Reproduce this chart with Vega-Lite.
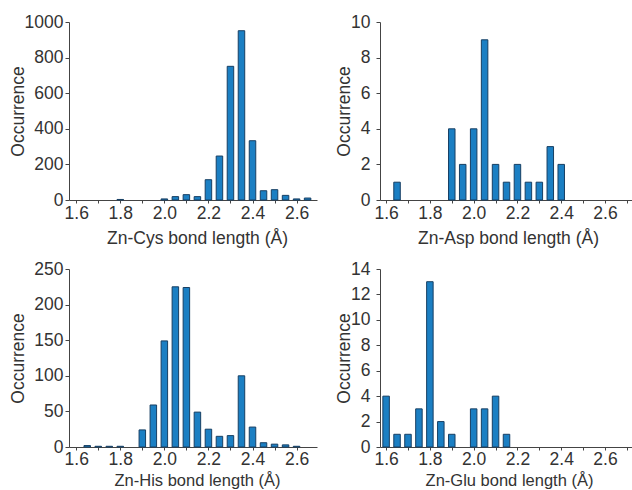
{
  "$schema": "https://vega.github.io/schema/vega-lite/v6.json",
  "padding": {"left": 9, "top": 13, "right": 0, "bottom": 0},
  "autosize": {"type": "pad"},
  "background": "white",
  "config": {
    "view": {"stroke": null},
    "font": "Liberation Sans",
    "axis": {
      "grid": false,
      "labelFont": "Liberation Sans",
      "labelFontSize": 17.5,
      "titleFont": "Liberation Sans",
      "titleFontSize": 17.5,
      "titleFontWeight": "normal",
      "labelColor": "#333333",
      "titleColor": "#333333",
      "domainColor": "#444444",
      "tickColor": "#444444",
      "labelFlush": false,
      "labelOverlap": false,
      "format": "d"
    }
  },
  "data": {
    "values": [
      {"residue": "Cys", "length": 1.8, "count": 3},
      {"residue": "Cys", "length": 2.0, "count": 6},
      {"residue": "Cys", "length": 2.05, "count": 19},
      {"residue": "Cys", "length": 2.1, "count": 30},
      {"residue": "Cys", "length": 2.15, "count": 19},
      {"residue": "Cys", "length": 2.2, "count": 114},
      {"residue": "Cys", "length": 2.25, "count": 247},
      {"residue": "Cys", "length": 2.3, "count": 751},
      {"residue": "Cys", "length": 2.35, "count": 951},
      {"residue": "Cys", "length": 2.4, "count": 333},
      {"residue": "Cys", "length": 2.45, "count": 52},
      {"residue": "Cys", "length": 2.5, "count": 58},
      {"residue": "Cys", "length": 2.55, "count": 26},
      {"residue": "Cys", "length": 2.6, "count": 6},
      {"residue": "Cys", "length": 2.65, "count": 11},
      {"residue": "Asp", "length": 1.65, "count": 1},
      {"residue": "Asp", "length": 1.9, "count": 4},
      {"residue": "Asp", "length": 1.95, "count": 2},
      {"residue": "Asp", "length": 2.0, "count": 4},
      {"residue": "Asp", "length": 2.05, "count": 9},
      {"residue": "Asp", "length": 2.1, "count": 2},
      {"residue": "Asp", "length": 2.15, "count": 1},
      {"residue": "Asp", "length": 2.2, "count": 2},
      {"residue": "Asp", "length": 2.25, "count": 1},
      {"residue": "Asp", "length": 2.3, "count": 1},
      {"residue": "Asp", "length": 2.35, "count": 3},
      {"residue": "Asp", "length": 2.4, "count": 2},
      {"residue": "His", "length": 1.65, "count": 2},
      {"residue": "His", "length": 1.7, "count": 1},
      {"residue": "His", "length": 1.75, "count": 1},
      {"residue": "His", "length": 1.8, "count": 1},
      {"residue": "His", "length": 1.9, "count": 24},
      {"residue": "His", "length": 1.95, "count": 59},
      {"residue": "His", "length": 2.0, "count": 149},
      {"residue": "His", "length": 2.05, "count": 225},
      {"residue": "His", "length": 2.1, "count": 224},
      {"residue": "His", "length": 2.15, "count": 49},
      {"residue": "His", "length": 2.2, "count": 25},
      {"residue": "His", "length": 2.25, "count": 15},
      {"residue": "His", "length": 2.3, "count": 16},
      {"residue": "His", "length": 2.35, "count": 100},
      {"residue": "His", "length": 2.4, "count": 28},
      {"residue": "His", "length": 2.45, "count": 6},
      {"residue": "His", "length": 2.5, "count": 4},
      {"residue": "His", "length": 2.55, "count": 3},
      {"residue": "His", "length": 2.6, "count": 1},
      {"residue": "Glu", "length": 1.6, "count": 4},
      {"residue": "Glu", "length": 1.65, "count": 1},
      {"residue": "Glu", "length": 1.7, "count": 1},
      {"residue": "Glu", "length": 1.75, "count": 3},
      {"residue": "Glu", "length": 1.8, "count": 13},
      {"residue": "Glu", "length": 1.85, "count": 2},
      {"residue": "Glu", "length": 1.9, "count": 1},
      {"residue": "Glu", "length": 2.0, "count": 3},
      {"residue": "Glu", "length": 2.05, "count": 3},
      {"residue": "Glu", "length": 2.1, "count": 4},
      {"residue": "Glu", "length": 2.15, "count": 1}
    ]
  },
  "columns": 2,
  "spacing": {"row": 69, "column": 63},
  "bounds": "flush",
  "concat": [
    {
      "width": 248, "height": 178,
      "transform": [{"filter": "datum.residue === 'Cys'"}],
      "mark": {"type": "bar", "width": 6.5, "fill": "#1b7fc3", "stroke": "#173f63", "strokeWidth": 1},
      "encoding": {
        "x": {"field": "length", "type": "quantitative",
          "scale": {"domain": [1.59, 2.67], "nice": false, "zero": false},
          "axis": {"title": "Zn-Cys bond length (Å)", "values": [1.6, 1.7, 1.8, 1.9, 2.0, 2.1, 2.2, 2.3, 2.4, 2.5, 2.6],
            "labelExpr": "round(datum.value * 10) % 2 == 0 ? format(datum.value, '.1f') : ''",
            "tickSize": 3, "labelPadding": 1, "titleX": 128, "titleY": 38, "titleBaseline": "middle"}},
        "y": {"field": "count", "type": "quantitative",
          "scale": {"domain": [0, 1000], "nice": false},
          "axis": {"title": "Occurrence", "values": [0, 200, 400, 600, 800, 1000],
            "tickSize": 4, "labelPadding": 2, "titleX": -51, "titleY": 89, "titleBaseline": "middle"}}
      }
    },
    {
      "width": 253, "height": 178,
      "transform": [{"filter": "datum.residue === 'Asp'"}],
      "mark": {"type": "bar", "width": 6.5, "fill": "#1b7fc3", "stroke": "#173f63", "strokeWidth": 1},
      "encoding": {
        "x": {"field": "length", "type": "quantitative",
          "scale": {"domain": [1.595, 2.705], "nice": false, "zero": false},
          "axis": {"title": "Zn-Asp bond length (Å)", "values": [1.6, 1.7, 1.8, 1.9, 2.0, 2.1, 2.2, 2.3, 2.4, 2.5, 2.6, 2.7],
            "labelExpr": "round(datum.value * 10) % 2 == 0 ? format(datum.value, '.1f') : ''",
            "tickSize": 3, "labelPadding": 1, "titleX": 128, "titleY": 38, "titleBaseline": "middle"}},
        "y": {"field": "count", "type": "quantitative",
          "scale": {"domain": [0, 10], "nice": false},
          "axis": {"title": "Occurrence", "values": [0, 2, 4, 6, 8, 10],
            "tickSize": 4, "labelPadding": 6, "titleX": -36, "titleY": 89, "titleBaseline": "middle"}}
      }
    },
    {
      "width": 248, "height": 178,
      "transform": [{"filter": "datum.residue === 'His'"}],
      "mark": {"type": "bar", "width": 6.5, "fill": "#1b7fc3", "stroke": "#173f63", "strokeWidth": 1},
      "encoding": {
        "x": {"field": "length", "type": "quantitative",
          "scale": {"domain": [1.59, 2.67], "nice": false, "zero": false},
          "axis": {"title": "Zn-His bond length (Å)", "values": [1.6, 1.7, 1.8, 1.9, 2.0, 2.1, 2.2, 2.3, 2.4, 2.5, 2.6],
            "labelExpr": "round(datum.value * 10) % 2 == 0 ? format(datum.value, '.1f') : ''",
            "tickSize": 3, "labelPadding": 0, "titleX": 128, "titleY": 33, "titleBaseline": "middle", "titleFontSize": 16.5}},
        "y": {"field": "count", "type": "quantitative",
          "scale": {"domain": [0, 250], "nice": false},
          "axis": {"title": "Occurrence", "values": [0, 50, 100, 150, 200, 250],
            "tickSize": 4, "labelPadding": 2, "titleX": -51, "titleY": 89, "titleBaseline": "middle"}}
      }
    },
    {
      "width": 253, "height": 178,
      "transform": [{"filter": "datum.residue === 'Glu'"}],
      "mark": {"type": "bar", "width": 6.5, "fill": "#1b7fc3", "stroke": "#173f63", "strokeWidth": 1},
      "encoding": {
        "x": {"field": "length", "type": "quantitative",
          "scale": {"domain": [1.595, 2.705], "nice": false, "zero": false},
          "axis": {"title": "Zn-Glu bond length (Å)", "values": [1.6, 1.7, 1.8, 1.9, 2.0, 2.1, 2.2, 2.3, 2.4, 2.5, 2.6, 2.7],
            "labelExpr": "round(datum.value * 10) % 2 == 0 ? format(datum.value, '.1f') : ''",
            "tickSize": 3, "labelPadding": 0, "titleX": 129, "titleY": 33, "titleBaseline": "middle", "titleFontSize": 16.5}},
        "y": {"field": "count", "type": "quantitative",
          "scale": {"domain": [0, 14], "nice": false},
          "axis": {"title": "Occurrence", "values": [0, 2, 4, 6, 8, 10, 12, 14],
            "tickSize": 4, "labelPadding": 6, "titleX": -36, "titleY": 89, "titleBaseline": "middle"}}
      }
    }
  ]
}
